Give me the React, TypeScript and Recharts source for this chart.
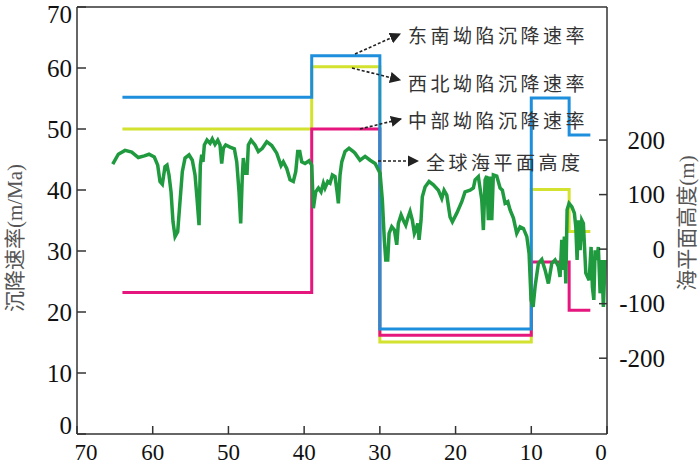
import { LineChart, Line, XAxis, YAxis, ReferenceLine } from 'recharts'

// age in Ma, reversed axis (70 -> 0)
const ageTicks = [0, 10, 20, 30, 40, 50, 60, 70]
const rateTicks = [0, 10, 20, 30, 40, 50, 60, 70]
const seaTicks = [-200, -100, 0, 100, 200]

// subsidence rates (m/Ma), step changes at these ages
const stepAges = [64, 39, 30, 10, 5, 2.2]
const southeastRate = [55.2, 62, 17.2, 55.1, 49, 49]
const northwestRate = [50, 60.2, 15.1, 40.1, 33.2, 33.2]
const centralRate = [23.2, 50, 16.2, 28.2, 20.3, 20.3]

// global sea level (m)
const seaAges = [
  65.28, 64.54, 63.66, 62.77, 61.9, 61.11, 60.49, 59.79, 59.34, 59.04,
  58.73, 58.38, 58.11, 57.85, 57.58, 57.32, 57.05, 56.7, 56.43, 56.09,
  55.73, 55.2, 54.77, 54.41, 54.15, 53.88, 53.79, 53.71, 53.53, 53.36,
  53.18, 52.83, 52.43, 52.13, 51.77, 51.41, 51.11, 50.89, 50.67, 50.36,
  49.79, 49.22, 48.9, 48.6, 48.38, 48.16, 48.03, 47.81, 47.54, 47.37,
  47.01, 46.49, 46.05, 45.52, 44.94, 44.28, 43.62, 43.05, 42.75, 42.3,
  41.86, 41.43, 41.11, 40.85, 40.58, 40.32, 39.88, 39.35, 39.0, 38.78,
  38.47, 38.12, 37.77, 37.46, 37.24, 36.88, 36.58, 36.27, 35.92, 35.65,
  35.48, 35.26, 35.03, 34.6, 34.07, 33.5, 33.28, 32.62, 31.95, 31.29,
  30.63, 29.97, 29.67, 29.41, 29.22, 28.96, 28.78, 28.43, 28.08, 27.77,
  27.56, 27.2, 26.9, 26.58, 26.31, 26.01, 25.71, 25.44, 25.26, 24.99,
  24.82, 24.56, 24.39, 24.03, 23.5, 22.93, 22.27, 21.82, 21.52, 21.16,
  20.73, 20.42, 19.84, 19.18, 18.75, 18.08, 17.65, 17.42, 16.99, 16.54,
  16.33, 16.1, 15.88, 15.67, 15.44, 15.22, 15.01, 14.56, 14.12, 13.82,
  13.46, 13.1, 12.8, 12.36, 11.92, 11.48, 11.04, 10.59, 10.29, 10.03,
  9.76, 9.5, 9.06, 8.61, 8.18, 7.74, 7.29, 6.86, 6.42, 6.2,
  5.97, 5.8, 5.63, 5.44, 5.27, 5.01, 4.65, 4.31, 4.12, 3.95,
  3.78, 3.55, 3.33, 3.12, 2.8, 2.36, 2.1, 1.93, 1.74, 1.57,
  1.35, 1.14, 0.91, 0.69, 0.48, 0.25,
]
const seaHeights = [
  156, 174, 181, 178, 168, 171, 174, 169, 154, 124,
  119, 151, 154, 136, 105, 50, 23, 32, 81, 142,
  167, 173, 163, 136, 93, 44, 105, 154, 173, 160,
  191, 200, 194, 202, 192, 200, 191, 157, 185, 191,
  187, 184, 160, 105, 47, 136, 167, 139, 139, 191,
  200, 191, 179, 185, 197, 190, 176, 153, 160, 148,
  127, 124, 142, 179, 179, 160, 157, 162, 154, 75,
  105, 112, 105, 121, 112, 124, 121, 136, 133, 105,
  84, 136, 160, 179, 185, 179, 176, 163, 170, 163,
  157, 139, 90, 17, -20, -20, 29, 41, 35, 8,
  47, 63, 53, 44, 57, 69, 53, 29, 35, 47,
  17, 53, 96, 114, 124, 118, 108, 93, 108, 99,
  59, 50, 66, 87, 105, 108, 112, 127, 133, 90,
  35, 127, 134, 53, 133, 53, 136, 134, 112, 108,
  84, 87, 72, 57, 29, 41, 38, 23, -8, -93,
  -106, -69, -26, -19, -38, -63, -26, -20, -32, -51,
  17, -38, 23, -63, 72, 84, 78, 66, 41, -20,
  53, -2, 53, 47, -44, -57, 4, -69, -93, -2,
  -20, 4, -81, -20, -106, -20,
]

const SERIF = "'Liberation Serif', 'Noto Sans CJK SC', serif"
const CJK = "'Noto Sans CJK SC', sans-serif"
const AXIS = '#333'

const toPoints = (ages: number[], vals: number[]) =>
  ages.map((age, i) => ({ age, value: vals[i] }))

const southeast = toPoints(stepAges, southeastRate)
const northwest = toPoints(stepAges, northwestRate)
const central = toPoints(stepAges, centralRate)
const seaLevel = toPoints(seaAges, seaHeights)

function BottomTick({ x, y, payload }: any) {
  // end labels are nudged inward like in the original figure
  const shift = payload.value === 70 ? 9 : payload.value === 0 ? -6 : 0
  return (
    <g>
      <line x1={x} y1={y} x2={x} y2={y - 8} stroke={AXIS} strokeWidth={1.5} />
      <text x={x + shift} y={y + 18} textAnchor="middle" dominantBaseline="central"
        fontSize={23} fontFamily={SERIF} fill="#111">{payload.value}</text>
    </g>
  )
}

function LeftTick({ x, y, payload }: any) {
  const ty = Math.min(Math.max(y, 14), 425)
  return (
    <g>
      <line x1={x} y1={y} x2={x + 9} y2={y} stroke={AXIS} strokeWidth={1.5} />
      <text x={x - 5} y={ty} textAnchor="end" dominantBaseline="central"
        fontSize={25} fontFamily={SERIF} fill="#111">{payload.value}</text>
    </g>
  )
}

function RightTick({ x, y, payload }: any) {
  return (
    <g>
      <line x1={x} y1={y} x2={x - 8} y2={y} stroke={AXIS} strokeWidth={1.5} />
      <text x={x + 58} y={y} textAnchor="end" dominantBaseline="central"
        fontSize={25} fontFamily={SERIF} fill="#111">{payload.value}</text>
    </g>
  )
}

function Annotations() {
  const labelStyle = { fontSize: 19, fontFamily: CJK, fill: '#333', letterSpacing: 3.5 }
  const dash = { stroke: '#222', strokeWidth: 1.6, strokeDasharray: '3 2', markerEnd: 'url(#arrow)' }
  return (
    <svg width={700} height={466} style={{ position: 'absolute', left: 0, top: 0, pointerEvents: 'none' }}>
      <defs>
        <marker id="arrow" viewBox="0 0 10 10" refX="9" refY="5" markerWidth="7" markerHeight="7" orient="auto">
          <path d="M0,0 L10,5 L0,10 z" fill="#222" />
        </marker>
      </defs>
      <line x1={355} y1={54} x2={400} y2={34} {...dash} />
      <line x1={352} y1={68} x2={400} y2={80} {...dash} />
      <line x1={360} y1={129} x2={401} y2={119} {...dash} />
      <line x1={378} y1={161} x2={418} y2={161} {...dash} />
      <text x={408} y={34} dominantBaseline="central" {...labelStyle}>东南坳陷沉降速率</text>
      <text x={408} y={82} dominantBaseline="central" {...labelStyle}>西北坳陷沉降速率</text>
      <text x={408} y={119} dominantBaseline="central" {...labelStyle}>中部坳陷沉降速率</text>
      <text x={426} y={161} dominantBaseline="central" {...labelStyle}>全球海平面高度</text>
      <text x={15} y={238} transform="rotate(-90 15 238)" textAnchor="middle" dominantBaseline="central"
        fontSize={21} fontFamily={SERIF} fill="#555">沉降速率(m/Ma)</text>
      <text x={687} y={223} transform="rotate(-90 687 223)" textAnchor="middle" dominantBaseline="central"
        fontSize={21} fontFamily={SERIF} fill="#555">海平面高度(m)</text>
    </svg>
  )
}

export default function App() {
  return (
    <div style={{ position: 'absolute', left: 0, top: 0, width: 700, height: 466, background: '#fff' }}>
      <LineChart width={700} height={466} margin={{ top: 7, right: 0, bottom: 0, left: 0 }}>
        <XAxis
          type="number"
          dataKey="age"
          domain={[0, 70]}
          ticks={ageTicks}
          reversed
          allowDataOverflow
          height={32}
          tickSize={0}
          tickMargin={0}
          tickLine={false}
          axisLine={{ stroke: AXIS, strokeWidth: 1.5 }}
          tick={<BottomTick />}
          interval={0}
        />
        <YAxis
          yAxisId="left"
          type="number"
          domain={[0, 70]}
          ticks={rateTicks}
          width={77}
          tickSize={0}
          tickMargin={0}
          tickLine={false}
          axisLine={{ stroke: AXIS, strokeWidth: 1.5 }}
          tick={<LeftTick />}
          interval={0}
        />
        <YAxis
          yAxisId="right"
          orientation="right"
          type="number"
          domain={[-339, 444]}
          ticks={seaTicks}
          allowDataOverflow
          width={93}
          tickSize={0}
          tickMargin={0}
          tickLine={false}
          axisLine={{ stroke: AXIS, strokeWidth: 1.5 }}
          tick={<RightTick />}
          interval={0}
        />
        <ReferenceLine yAxisId="left" y={70} stroke={AXIS} strokeWidth={1.5} />
        <Line yAxisId="left" data={northwest} dataKey="value" type="stepAfter"
          stroke="#d2e22e" strokeWidth={3} dot={false} isAnimationActive={false} />
        <Line yAxisId="left" data={central} dataKey="value" type="stepAfter"
          stroke="#e5177e" strokeWidth={3} dot={false} isAnimationActive={false} />
        <Line yAxisId="left" data={southeast} dataKey="value" type="stepAfter"
          stroke="#1e8fdc" strokeWidth={3} dot={false} isAnimationActive={false} />
        <Line yAxisId="right" data={seaLevel} dataKey="value" type="linear"
          stroke="#1f9a3f" strokeWidth={3.5} dot={false} isAnimationActive={false} />
      </LineChart>
      <Annotations />
    </div>
  )
}
